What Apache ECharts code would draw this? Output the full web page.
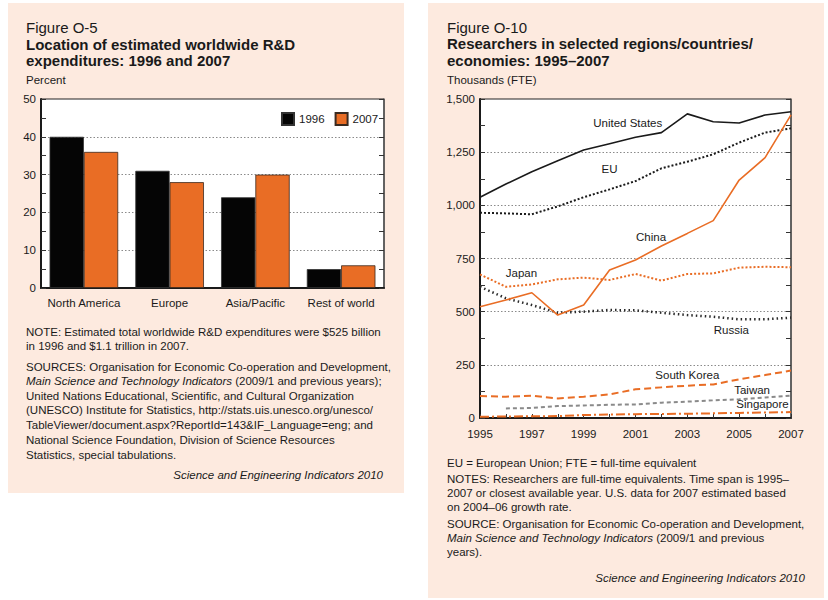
<!DOCTYPE html>
<html>
<head>
<meta charset="utf-8">
<script src="https://cdn.jsdelivr.net/npm/echarts@6/dist/echarts.min.js"></script>
<style>
    html, body { margin: 0; padding: 0; background: #fff; }
    #main { width: 828px; height: 600px; }
</style>
</head>
<body>
<div id="main"></div>
<script>
// left figure: share of world R&D
let regions = ['North America', 'Europe', 'Asia/Pacific', 'Rest of world']
let share1996 = [40, 31, 24, 5]
let share2007 = [36, 28, 30, 6]
let percentTicks = [0, 10, 20, 30, 40, 50]

// right figure: researchers, thousands FTE
let years = [1995, 1996, 1997, 1998, 1999, 2000, 2001, 2002, 2003, 2004, 2005, 2006, 2007]
let unitedStates = [1038, 1100, 1158, 1210, 1260, 1290, 1320, 1342, 1430, 1393, 1387, 1425, 1440]
let eu = [965, 962, 958, 995, 1038, 1075, 1114, 1174, 1205, 1240, 1295, 1342, 1362]
let china = [523, 555, 589, 484, 531, 696, 743, 809, 868, 928, 1119, 1224, 1425]
let japan = [675, 617, 628, 652, 660, 649, 677, 646, 677, 680, 707, 711, 709]
let russia = [617, 563, 531, 495, 500, 508, 506, 495, 484, 476, 464, 464, 472]
let southKorea = [103, 100, 105, 92, 100, 111, 135, 144, 152, 158, 182, 202, 223]
let taiwan = [null, 45, 47, 56, 59, 62, 64, 72, 77, 83, 88, 96, 105]
let singapore = [6, 7, 8, 9, 14, 16, 18, 19, 20, 22, 24, 26, 28]
let researcherTicks = [0, 250, 500, 750, 1000, 1250, 1500]

let font = '"Liberation Sans", Arial, Helvetica, sans-serif'
let orange = '#e96d25'
let ink = '#1a1a1a'
let small = 11.5

// pair years with values for the value x axis
function pairs(arr) {
    return years.map(function (y, i) { return [y, arr[i]] }).filter(function (p) { return p[1] != null })
}

// a text tag placed on the data scale
function tag(text, x, y) {
    return {
        symbolSize: 0,
        silent: true,
        animation: false,
        data: [{
            coord: [x, y],
            label: { show: true, position: 'inside', formatter: text, color: ink, fontSize: small, fontFamily: font }
        }]
    }
}

function lineSeries(name, arr, color, width, dash, label) {
    return {
        name: name,
        type: 'line',
        xAxisIndex: 1,
        yAxisIndex: 2,
        data: pairs(arr),
        symbol: 'none',
        lineStyle: { color: color, width: width, type: dash },
        markPoint: label
    }
}

// static texts
let texts = []
function addText(x, y, text, opt) {
    opt = opt || {}
    texts.push({
        type: 'text',
        left: x,
        top: y,
        z: 10,
        style: {
            text: text,
            x: 0, y: 0,
            fill: ink,
            font: (opt.bold ? 'bold ' : '') + (opt.size || small) + 'px ' + font,
            rich: { i: { fontStyle: 'italic', fontSize: small, fontFamily: font, fill: ink } }
        }
    })
}
function addTextRight(x, y, text) {
    texts.push({
        type: 'text',
        right: 828 - x,
        top: y,
        z: 10,
        style: { text: text, fill: ink, font: 'italic ' + small + 'px ' + font }
    })
}

// left panel texts (top = centre - half size)
addText(26, 20, 'Figure O-5', { size: 15 })
addText(26, 37, 'Location of estimated worldwide R&D', { size: 15, bold: true })
addText(26, 53, 'expenditures: 1996 and 2007', { size: 15, bold: true })
addText(26, 74, 'Percent')
let leftNotes = [
    [332, 'NOTE: Estimated total worldwide R&D expenditures were $525 billion'],
    [346, 'in 1996 and $1.1 trillion in 2007.'],
    [367, 'SOURCES: Organisation for Economic Co-operation and Development,'],
    [381, '{i|Main Science and Technology Indicators} (2009/1 and previous years);'],
    [396, 'United Nations Educational, Scientific, and Cultural Organization'],
    [410, '(UNESCO) Institute for Statistics, http://stats.uis.unesco.org/unesco/'],
    [425, 'TableViewer/document.aspx?ReportId=143&IF_Language=eng; and'],
    [440, 'National Science Foundation, Division of Science Resources'],
    [455, 'Statistics, special tabulations.']
]
leftNotes.forEach(function (n) { addText(26, n[0] - 6, n[1]) })
addTextRight(383, 469, 'Science and Engineering Indicators 2010')

// right panel texts
addText(447, 20, 'Figure O-10', { size: 15 })
addText(447, 36, 'Researchers in selected regions/countries/', { size: 15, bold: true })
addText(447, 53, 'economies: 1995–2007', { size: 15, bold: true })
addText(447, 74, 'Thousands (FTE)')
let rightNotes = [
    [463, 'EU = European Union; FTE = full-time equivalent'],
    [479, 'NOTES: Researchers are full-time equivalents. Time span is 1995–'],
    [493, '2007 or closest available year. U.S. data for 2007 estimated based'],
    [507, 'on 2004–06 growth rate.'],
    [524, 'SOURCE: Organisation for Economic Co-operation and Development,'],
    [538, '{i|Main Science and Technology Indicators} (2009/1 and previous'],
    [552, 'years).']
]
rightNotes.forEach(function (n) { addText(447, n[0] - 6, n[1]) })
addTextRight(805, 572, 'Science and Engineering Indicators 2010')

// panel backgrounds
let panels = [
    { type: 'rect', z: -10, shape: { x: 8, y: 3, width: 396, height: 490 }, style: { fill: '#fdeadf' } },
    { type: 'rect', z: -10, shape: { x: 428, y: 3, width: 396, height: 595 }, style: { fill: '#fdeadf' } }
]

let axisLabel = { color: ink, fontSize: small, fontFamily: font }
let dotted = { color: '#8a8a8a', width: 1, type: [1.5, 2] }

function valueAxis(grid, ticks, side, labels) {
    return {
        type: 'value',
        gridIndex: grid,
        position: side,
        min: ticks[0],
        max: ticks[ticks.length - 1],
        interval: ticks[1] - ticks[0],
        axisLine: { show: true, lineStyle: { color: side === 'left' ? ink : '#555', width: side === 'left' ? 2 : 1.5 } },
        axisTick: { show: true, inside: true, length: 5, lineStyle: { color: '#333' } },
        minorTick: { show: true, splitNumber: 2, length: 5, lineStyle: { color: '#333' } },
        axisLabel: labels ? Object.assign({ margin: 5, formatter: function (v) { return v.toLocaleString('en-US') } }, axisLabel) : { show: false },
        splitLine: { show: labels, showMinLine: false, showMaxLine: false, lineStyle: dotted }
    }
}

let myChart = echarts.init(document.getElementById('main'), null, { renderer: 'svg' })
myChart.setOption({
    animation: false,
    textStyle: { fontFamily: font },
    grid: [
        { left: 41, top: 99, width: 343, height: 189, show: true, backgroundColor: '#fff', borderColor: '#222', borderWidth: 1 },
        { left: 480, top: 99, width: 311, height: 319, show: true, backgroundColor: '#fff', borderColor: '#222', borderWidth: 1 }
    ],
    graphic: panels.concat(texts),
    legend: {
        data: ['1996', '2007'],
        left: 281,
        top: 112,
        padding: 0,
        itemWidth: 12,
        itemHeight: 12,
        itemGap: 10,
        icon: 'rect',
        textStyle: { color: ink, fontSize: small, fontFamily: font }
    },
    xAxis: [
        {
            type: 'category',
            gridIndex: 0,
            data: regions,
            axisLine: { lineStyle: { color: ink, width: 2 } },
            axisTick: { show: false },
            axisLabel: Object.assign({ margin: 9, interval: 0 }, axisLabel)
        },
        {
            type: 'value',
            gridIndex: 1,
            min: years[0],
            max: years[years.length - 1],
            interval: 1,
            axisLine: { lineStyle: { color: ink, width: 2 } },
            axisTick: { show: true, inside: true, length: 4, lineStyle: { color: '#333' } },
            axisLabel: Object.assign({ margin: 10, formatter: function (v) { return v % 2 === 1 ? String(v) : '' } }, axisLabel),
            splitLine: { show: false }
        }
    ],
    yAxis: [
        valueAxis(0, percentTicks, 'left', true),
        valueAxis(0, percentTicks, 'right', false),
        valueAxis(1, researcherTicks, 'left', true),
        valueAxis(1, researcherTicks, 'right', false)
    ],
    series: [
        {
            name: '1996',
            type: 'bar',
            xAxisIndex: 0,
            yAxisIndex: 0,
            data: share1996,
            barGap: '0%',
            barCategoryGap: '20%',
            itemStyle: { color: '#050505', borderColor: '#333', borderWidth: 0.8 }
        },
        {
            name: '2007',
            type: 'bar',
            xAxisIndex: 0,
            yAxisIndex: 0,
            data: share2007,
            itemStyle: { color: orange, borderColor: '#3a2a20', borderWidth: 0.8 }
        },
        lineSeries('Singapore', singapore, orange, 2, [9, 3, 2, 3], tag('Singapore', 2005.9, 66)),
        lineSeries('Taiwan', taiwan, '#8a8a8a', 2, [4, 3], tag('Taiwan', 2005.5, 132)),
        lineSeries('South Korea', southKorea, orange, 2, [7, 4], tag('South Korea', 2003.0, 202)),
        lineSeries('Russia', russia, '#2a2a2a', 2.5, [1.5, 3], tag('Russia', 2004.7, 414)),
        lineSeries('Japan', japan, orange, 2, [2, 2], tag('Japan', 1996.6, 680)),
        lineSeries('EU', eu, ink, 2, [2, 2], tag('EU', 2000.0, 1171)),
        lineSeries('China', china, orange, 1.6, 'solid', tag('China', 2001.6, 853)),
        lineSeries('United States', unitedStates, ink, 1.6, 'solid', tag('United States', 2000.7, 1387))
    ]
})
</script>
</body>
</html>
